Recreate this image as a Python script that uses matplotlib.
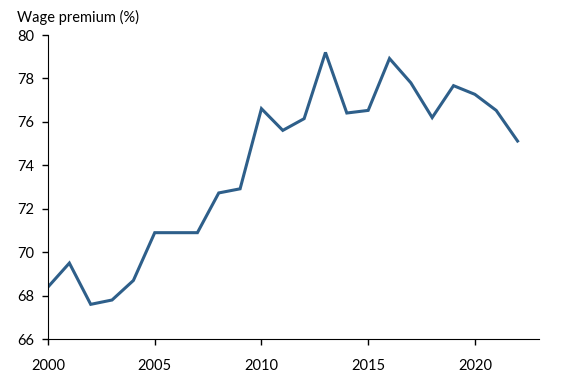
import matplotlib.pyplot as plt

years = list(range(2000, 2023))
premium = [68.4, 69.5, 67.6, 67.8, 68.7, 70.9, 70.9, 70.9, 72.73, 72.92,
           76.61, 75.61, 76.15, 79.2, 76.41, 76.53, 78.92, 77.8, 76.2, 77.67,
           77.27, 76.53, 75.12]
xticks = [2000, 2005, 2010, 2015, 2020]
yticks = [66, 68, 70, 72, 74, 76, 78, 80]

plt.rcParams['font.family'] = ['Lato', 'DejaVu Sans']

fig = plt.figure(figsize=(5.61, 3.81), dpi=100)
ax = fig.add_axes([0.0856, 0.110, 0.875, 0.798])
ax.plot(years, premium, color='#2e5f8a', linewidth=2.2, solid_joinstyle='miter')

ax.set_xlim(2000, 2023)
ax.set_ylim(66, 80)
ax.set_xticks(xticks)
ax.set_yticks(yticks)
ax.spines['top'].set_visible(False)
ax.spines['right'].set_visible(False)
ax.tick_params(direction='out', length=4, width=1, labelsize=10.5, pad=6)
ax.tick_params(axis='x', pad=10)

fig.text(0.03, 0.953, 'Wage premium (%)', fontsize=10.5, va='center', ha='left')

fig.savefig('out.png', dpi=100)
